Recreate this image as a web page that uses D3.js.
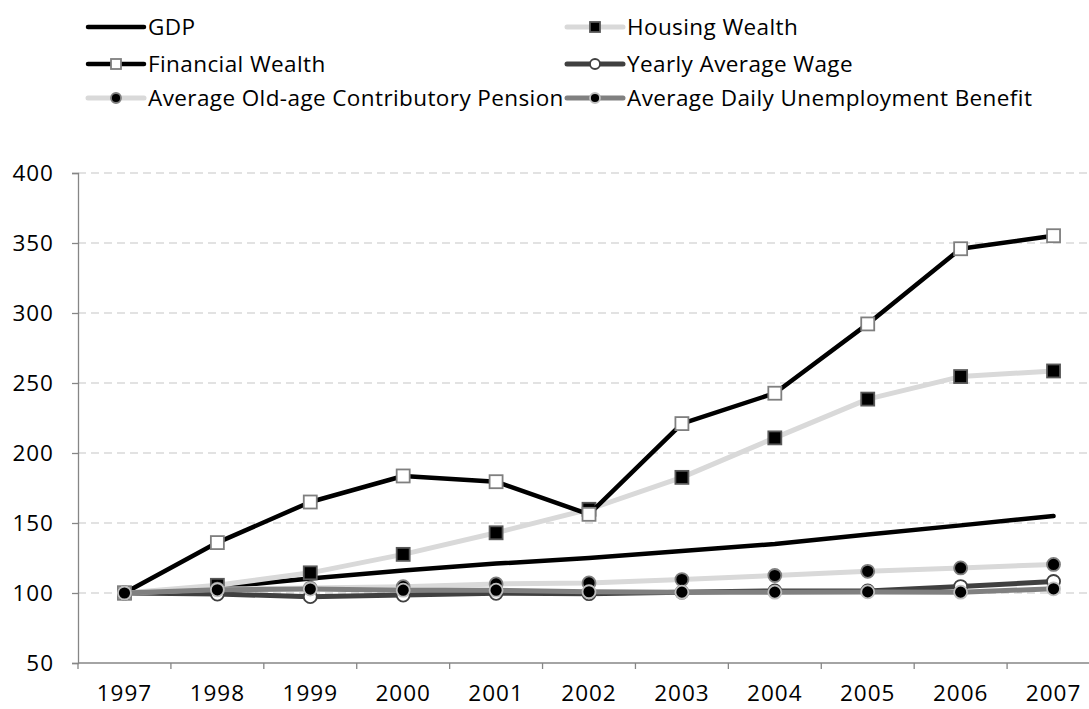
<!DOCTYPE html>
<html><head><meta charset="utf-8">
<script src="https://cdn.jsdelivr.net/npm/d3@7"></script>
<style>body{margin:0;background:#fff}svg{display:block}text{font-family:"Open Sans",Lato,sans-serif;fill:#000}</style>
</head><body><svg id="c" width="1089" height="709"></svg>
<script>
(function(){
const years = ["1997","1998","1999","2000","2001","2002","2003","2004","2005","2006","2007"];
const gdp = [100,104,110.4,116,121,125,130,135,141.8,148.3,155];
const housingWealth = [100,105.5,114.4,127.6,143,159.8,182.6,210.8,238.5,254.6,258.6];
const financialWealth = [100,136,165,183.6,179.5,156.2,221,242.7,292.2,345.9,355.2];
const yearlyWage = [100,99.2,97.4,98.5,99.8,99.5,100.6,101.5,101.5,104.6,108.2];
const oldAgePension = [100,102.8,103.5,104.5,106.5,107.2,109.6,112.5,115.5,117.9,120.4];
const unemploymentBenefit = [100,102.3,102.8,102,102,100.9,100.6,100.6,100.8,100.6,103];
const yTicks = [50,100,150,200,250,300,350,400];

const series = [
  {name:"GDP", values:gdp, line:"#000", lw:4.5, marker:null},
  {name:"Housing Wealth", values:housingWealth, line:"#d9d9d9", lw:5, marker:"square", fill:"#000", stroke:"#595959"},
  {name:"Financial Wealth", values:financialWealth, line:"#000", lw:4.5, marker:"square", fill:"#fff", stroke:"#7f7f7f"},
  {name:"Yearly Average Wage", values:yearlyWage, line:"#404040", lw:5, marker:"circle", fill:"#fff", stroke:"#404040"},
  {name:"Average Old-age Contributory Pension", values:oldAgePension, line:"#d9d9d9", lw:5, marker:"circle", fill:"#000", stroke:"#7f7f7f"},
  {name:"Average Daily Unemployment Benefit", values:unemploymentBenefit, line:"#808080", lw:5, marker:"circle", fill:"#000", stroke:"#bfbfbf"}
];

const svg = d3.select("#c");
const mLeft = 78, mRight = 1100, mTop = 173, mBottom = 663;
const x = d3.scaleBand().domain(years).range([mLeft, mRight]);
const y = d3.scaleLinear().domain([50,400]).range([mBottom, mTop]);

svg.append("g").selectAll("line").data(yTicks.filter(t=>t>50)).join("line")
  .attr("x1", mLeft).attr("x2", 1089).attr("y1", d=>y(d)).attr("y2", d=>y(d))
  .attr("stroke","#d9d9d9").attr("stroke-width",1.3).attr("stroke-dasharray","8,5");

const ya = svg.append("g").attr("transform",`translate(${mLeft},0)`)
  .call(d3.axisLeft(y).tickValues(yTicks).tickSize(6).tickPadding(18));
ya.select(".domain").attr("stroke","#868686").attr("stroke-width",1.3);
ya.selectAll(".tick line").attr("stroke","#868686").attr("stroke-width",1.3);
ya.selectAll(".tick text").style("font-size","22.5px").style("letter-spacing","1px").style("font-family","Open Sans").attr("fill","#000");

const xa = svg.append("g").attr("transform",`translate(0,${mBottom})`)
  .call(d3.axisBottom(x).tickSize(0).tickPadding(22));
xa.select(".domain").attr("stroke","#868686").attr("stroke-width",1.3).attr("d",`M${mLeft},0H1089`);
xa.selectAll(".tick text").style("font-size","22.5px").style("letter-spacing","1px").style("font-family","Open Sans").attr("fill","#000");
svg.append("g").selectAll("line").data(years).join("line")
  .attr("x1", d=>x(d)).attr("x2", d=>x(d)).attr("y1", mBottom).attr("y2", mBottom+6)
  .attr("stroke","#868686").attr("stroke-width",1.3);

const cx = d => x(d) + x.bandwidth()/2;
const lineGen = d3.line().x((d,i)=>cx(years[i])).y(d=>y(d));

function drawMarker(g, type, px, py, size, s){
  if(type==="square"){
    g.append("rect").attr("x",px-size/2).attr("y",py-size/2).attr("width",size).attr("height",size)
      .attr("fill",s.fill).attr("stroke",s.stroke).attr("stroke-width",1.8);
  } else if(type==="circle"){
    g.append("circle").attr("cx",px).attr("cy",py).attr("r",size/2)
      .attr("fill",s.fill).attr("stroke",s.stroke).attr("stroke-width",1.8);
  }
}

series.forEach(s=>{
  const g = svg.append("g");
  g.append("path").attr("d", lineGen(s.values)).attr("fill","none")
    .attr("stroke", s.line).attr("stroke-width", s.lw).attr("stroke-linejoin","round").attr("stroke-linecap","round");
  if(s.marker){
    s.values.forEach((v,i)=>drawMarker(g, s.marker, cx(years[i]), y(v), 13, s));
  }
});

const legPos = [[88,27],[567,27],[88,64],[567,64],[88,98],[567,98]];
series.forEach((s,i)=>{
  const [lx,ly] = legPos[i];
  const g = svg.append("g");
  g.append("line").attr("x1",lx).attr("x2",lx+56).attr("y1",ly).attr("y2",ly)
    .attr("stroke",s.line).attr("stroke-width",s.lw).attr("stroke-linecap","round");
  if(s.marker) drawMarker(g, s.marker, lx+28, ly, 10, s);
  g.append("text").attr("x",lx+60).attr("y",ly).attr("dy","0.36em")
    .style("font-size","22.5px").style("letter-spacing","0.4px").text(s.name);
});
})();
</script></body></html>
